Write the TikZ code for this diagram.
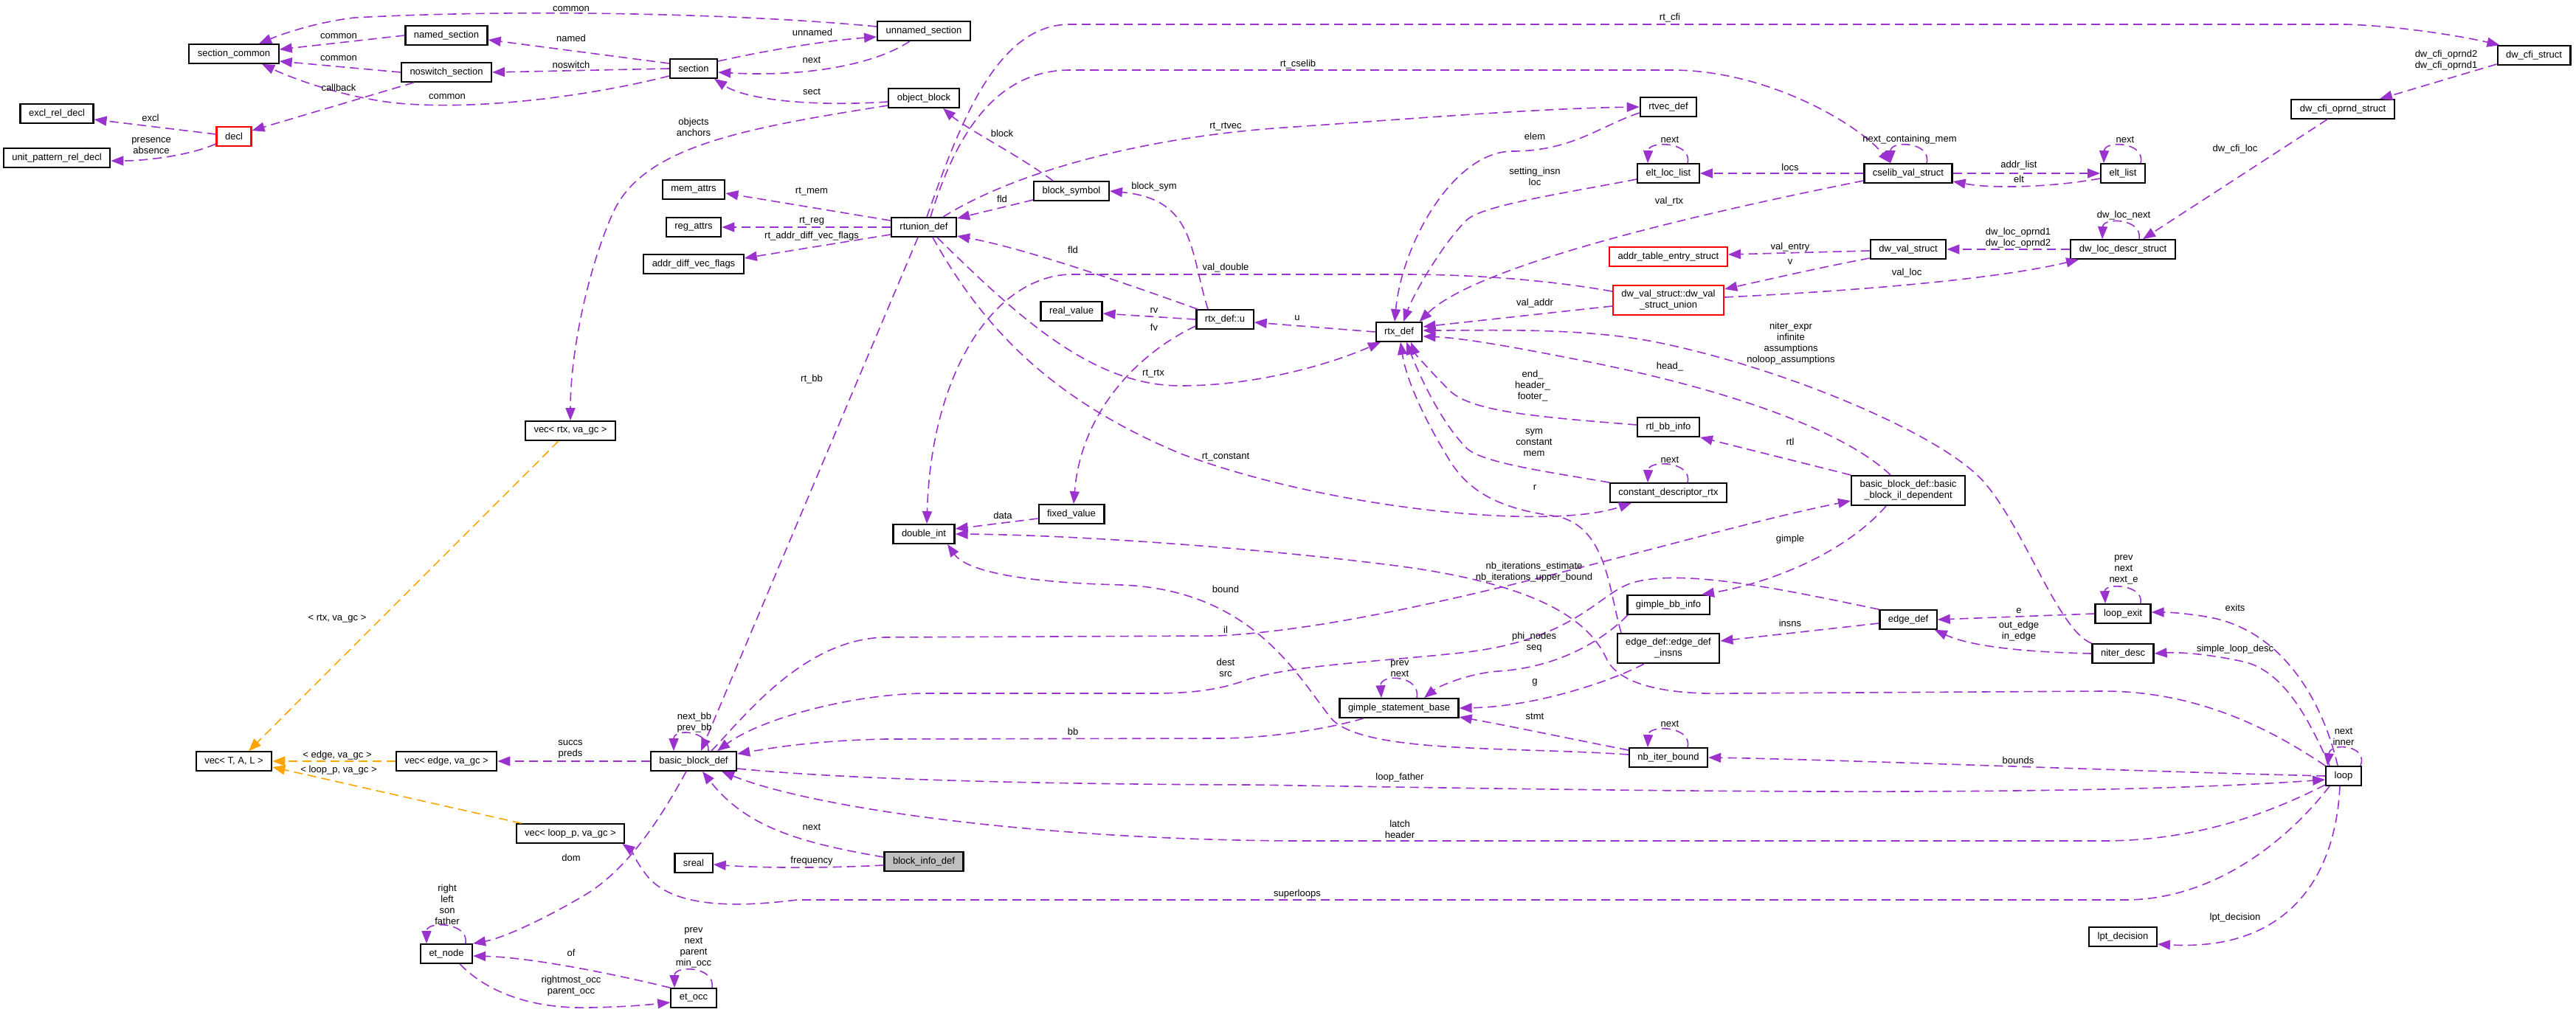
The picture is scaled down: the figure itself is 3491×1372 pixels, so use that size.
\documentclass[tikz,border=0pt]{standalone}
\usepackage{fontspec}
\setmainfont{Liberation Sans}
\usetikzlibrary{arrows.meta}
\definecolor{orchid}{RGB}{154,50,205}
\definecolor{tplorange}{RGB}{255,165,0}
\definecolor{rootgray}{RGB}{191,191,191}

\begin{document}
\begin{tikzpicture}[
        x=1pt, y=-1pt,
        every node/.style={font=\fontsize{13}{15}\selectfont},
        cls/.style={
            draw, line width=2.2pt, fill=white,
            inner xsep=11.5pt, inner ysep=0pt,
            minimum height=25.5pt, align=center
        },
        cls2/.style={cls, minimum height=40pt},
        redcls/.style={cls, draw=red},
        redcls2/.style={cls2, draw=red},
        rootcls/.style={cls, fill=rootgray},
        uses/.style={draw=orchid, line width=1.6pt, dash pattern=on 12pt off 7pt,
            -{Triangle[length=17pt, width=13pt]}},
        inst/.style={uses, draw=tplorange},
        lbl/.style={inner sep=0pt, align=center}
    ]
    \fill[white] (0,0) rectangle (3491,1372);
    \useasboundingbox (0,0) rectangle (3491,1372);

    % section structs
    \node[cls] (sc) at (317,73) {section\_common};
    \node[cls] (named) at (605,48) {named\_section};
    \node[cls] (noswitch) at (605,98) {noswitch\_section};
    \node[cls] (excl) at (77,154) {excl\_rel\_decl};
    \node[redcls] (decl) at (317,185) {decl};
    \node[cls] (upr) at (77,214) {unit\_pattern\_rel\_decl};
    \node[cls] (unnamed) at (1252,42) {unnamed\_section};
    \node[cls] (section) at (940,93) {section};
    \node[cls] (objblock) at (1252,133) {object\_block};
    \node[cls] (memattrs) at (940,257) {mem\_attrs};
    \node[cls] (regattrs) at (940,308) {reg\_attrs};
    \node[cls] (advf) at (940,358) {addr\_diff\_vec\_flags};
    \node[cls] (rtunion) at (1252,308) {rtunion\_def};
    \node[cls] (blocksym) at (1452,259) {block\_symbol};
    \node[cls] (realval) at (1452,422) {real\_value};
    \node[cls] (rtxu) at (1660,433) {rtx\_def::u};
    \node[cls] (fixed) at (1452,697) {fixed\_value};
    \node[cls] (dint) at (1252,724) {double\_int};
    \node[cls] (vecrtx) at (773,584) {vec< rtx, va\_gc >};

    % rtx and dwarf structs
    \node[cls] (rtx) at (1896,450) {rtx\_def};
    \node[cls] (rtvec) at (2261,145) {rtvec\_def};
    \node[cls] (eltloc) at (2261,235) {elt\_loc\_list};
    \node[cls] (cselib) at (2586,235) {cselib\_val\_struct};
    \node[cls] (eltlist) at (2877,235) {elt\_list};
    \node[redcls] (addrtab) at (2261,348) {addr\_table\_entry\_struct};
    \node[cls] (dwval) at (2586,338) {dw\_val\_struct};
    \node[redcls2] (dwunion) at (2261,407) {dw\_val\_struct::dw\_val\\\_struct\_union};
    \node[cls] (cfi) at (3434,75) {dw\_cfi\_struct};
    \node[cls] (cfiop) at (3175,148) {dw\_cfi\_oprnd\_struct};
    \node[cls] (locdescr) at (2877,338) {dw\_loc\_descr\_struct};
    \node[cls] (rtlbb) at (2261,579) {rtl\_bb\_info};
    \node[cls] (cdesc) at (2261,668) {constant\_descriptor\_rtx};
    \node[cls2] (bbil) at (2586,665) {basic\_block\_def::basic\\\_block\_il\_dependent};

    % cfg and loop structs
    \node[cls] (gbb) at (2261,820) {gimple\_bb\_info};
    \node[cls2] (einsns) at (2261,879) {edge\_def::edge\_def\\\_insns};
    \node[cls] (edge) at (2586,840) {edge\_def};
    \node[cls] (lexit) at (2877,832) {loop\_exit};
    \node[cls] (niter) at (2877,886) {niter\_desc};
    \node[cls] (gsb) at (1896,960) {gimple\_statement\_base};
    \node[cls] (nbib) at (2261,1027) {nb\_iter\_bound};
    \node[cls] (loop) at (3176,1052) {loop};
    \node[cls] (lpt) at (2877,1270) {lpt\_decision};
    \node[cls] (vectal) at (317,1032) {vec< T, A, L >};
    \node[cls] (vecedge) at (605,1032) {vec< edge, va\_gc >};
    \node[cls] (veclp) at (773,1130) {vec< loop\_p, va\_gc >};
    \node[cls] (bb) at (940,1032) {basic\_block\_def};
    \node[cls] (sreal) at (940,1170) {sreal};
    \node[rootcls] (bid) at (1252,1168) {block\_info\_def};
    \node[cls] (etnode) at (605,1293) {et\_node};
    \node[cls] (etocc) at (940,1353) {et\_occ};

    % section edges
    \draw[uses] (named.west) -- ([yshift=6pt]sc.east);
    \draw[uses] (noswitch.west) -- ([yshift=-10pt]sc.east);
    \draw[uses] ([yshift=6pt]unnamed.west) .. controls (1000,18) and (700,12) .. (480,24)
        .. controls (430,30) and (385,45) .. ([xshift=34pt]sc.north);
    \draw[uses] ([yshift=-10pt]section.west) .. controls (800,130) and (650,150) .. (540,140)
        .. controls (470,133) and (400,108) .. ([xshift=38pt]sc.south);
    \draw[uses] ([yshift=7pt]section.west) -- ([yshift=-6pt]named.east);
    \draw[uses] (section.west) -- (noswitch.east);
    \draw[uses] ([xshift=-44pt]noswitch.south) -- ([yshift=8pt]decl.east);
    \draw[uses] ([yshift=3pt]decl.west) -- ([yshift=-8pt]excl.east);
    \draw[uses] ([yshift=-10pt]decl.west) .. controls (260,210) and (200,218) .. ([yshift=-4pt]upr.east);
    \draw[uses] ([yshift=10pt]section.east) .. controls (1040,68) and (1120,55) .. ([yshift=-8pt]unnamed.west);
    \draw[uses] ([xshift=-19pt]unnamed.south) .. controls (1190,85) and (1100,105) .. ([yshift=-5pt]section.east);
    \draw[uses] ([yshift=-5pt]objblock.west) .. controls (1100,145) and (1010,135) .. ([xshift=28pt]section.south);
    \draw[uses] ([yshift=-10pt]objblock.west) .. controls (1000,175) and (870,200) .. (830,290)
        .. controls (795,370) and (773,480) .. (vecrtx.north);

    % template instances
    \draw[inst] ([xshift=-16pt]vecrtx.south) -- ([xshift=20pt]vectal.north);
    \draw[inst] (vecedge.west) -- (vectal.east);
    \draw[inst] ([xshift=8pt]veclp.north west) -- ([yshift=-8pt]vectal.east);
    \draw[uses] (bb.west) -- (vecedge.east);

    % rtunion_def
    \draw[uses] ([yshift=9pt]rtunion.west) -- ([yshift=-5pt]memattrs.east);
    \draw[uses] (rtunion.west) -- (regattrs.east);
    \draw[uses] ([yshift=-10pt]rtunion.west) -- ([yshift=8pt]advf.east);
    \draw[uses] ([yshift=-12pt]blocksym.west) -- ([yshift=12pt]rtunion.east);
    \draw[uses] ([xshift=-25pt]blocksym.north) .. controls (1380,210) and (1310,175) .. ([xshift=26pt]objblock.south);
    \draw[uses] ([xshift=-23pt]rtxu.north) .. controls (1612,340) and (1620,270) .. (blocksym.east);
    \draw[uses] ([xshift=-37pt]rtxu.north) .. controls (1500,375) and (1380,335) .. ([yshift=-12pt]rtunion.east);
    \draw[uses] (rtxu.west) -- ([yshift=-3pt]realval.east);
    \draw[uses] ([yshift=-9pt]rtxu.west) .. controls (1540,480) and (1465,560) .. ([xshift=3pt]fixed.north);
    \draw[uses] (rtx.west) -- ([yshift=-4pt]rtxu.east);
    \draw[uses] ([xshift=26pt]rtunion.north) .. controls (1380,230) and (1560,185) .. (1740,173)
        .. controls (1900,162) and (2080,147) .. (rtvec.west);
    \draw[uses] ([xshift=9pt]rtunion.north) .. controls (1290,200) and (1340,95) .. (1450,95) -- (2270,95)
        .. controls (2400,97) and (2520,170) .. ([xshift=-24pt]cselib.north);
    \draw[uses] ([xshift=4pt]rtunion.north) .. controls (1300,170) and (1350,33) .. (1450,33) -- (3180,33)
        .. controls (3260,36) and (3340,50) .. ([xshift=4pt]cfi.north west);
    \draw[uses] ([xshift=18pt]rtunion.south) .. controls (1380,430) and (1480,523) .. (1600,523)
        .. controls (1700,523) and (1800,495) .. ([xshift=-25pt]rtx.south);
    \draw[uses] ([xshift=-8pt]rtunion.south) -- ([xshift=10pt]bb.north);
    \draw[uses] ([xshift=12pt]rtunion.south) .. controls (1330,440) and (1420,540) .. (1600,615)
        .. controls (1800,690) and (2100,720) .. ([xshift=-50pt]cdesc.south);
    \draw[uses] ([yshift=-6pt]fixed.west) -- ([yshift=7pt]dint.east);

    % rtx_def and dwarf
    \draw[uses] ([yshift=12pt]dwunion.west) .. controls (2100,380) and (2000,372) .. (1900,372) -- (1450,372)
        .. controls (1350,375) and (1262,500) .. ([xshift=4pt]dint.north);
    \draw[uses] ([yshift=-8pt]dwunion.west) -- ([yshift=7pt]rtx.east);
    \draw[uses] ([yshift=-8pt]eltloc.west) .. controls (2120,262) and (2010,278) .. (1988,298)
        .. controls (1955,330) and (1915,400) .. ([xshift=6pt]rtx.north);
    \draw[uses] ([yshift=-8pt]rtvec.west) .. controls (2170,170) and (2130,205) .. (2050,205)
        .. controls (1970,205) and (1900,330) .. ([xshift=-6pt]rtx.north);
    \draw[uses] ([yshift=-10pt]cselib.west) .. controls (2300,290) and (2000,360) .. ([xshift=-5pt]rtx.north east);
    \draw[uses] (cselib.west) -- (eltloc.east);
    \draw[uses] ([xshift=26pt]eltloc.north) .. controls (2294,192) and (2234,190) .. ([xshift=-28pt]eltloc.north);
    \draw[uses] ([xshift=25pt]cselib.north) .. controls (2618,192) and (2562,190) .. ([xshift=-24pt]cselib.north);
    \draw[uses] (cselib.east) -- (eltlist.west);
    \draw[uses] ([yshift=-7pt]eltlist.west) .. controls (2780,254) and (2700,256) .. ([yshift=-11pt]cselib.east);
    \draw[uses] ([xshift=24pt]eltlist.north) .. controls (2908,192) and (2852,190) .. ([xshift=-26pt]eltlist.north);
    \draw[uses] ([yshift=-12pt]cfi.west) -- ([xshift=50pt]cfiop.north);
    \draw[uses] ([xshift=-21pt]cfiop.south) -- ([xshift=27pt]locdescr.north);
    \draw[uses] ([xshift=22pt]locdescr.north) .. controls (2904,296) and (2850,294) .. ([xshift=-28pt]locdescr.north);
    \draw[uses] (locdescr.west) -- (dwval.east);
    \draw[uses] ([yshift=4pt]dwunion.east) .. controls (2500,395) and (2700,380) .. ([xshift=12pt]locdescr.south west);
    \draw[uses] ([yshift=-2pt]dwval.west) -- ([yshift=3pt]addrtab.east);
    \draw[uses] ([yshift=-12pt]dwval.west) .. controls (2470,362) and (2400,378) .. ([yshift=15pt]dwunion.east);
    \draw[uses] ([yshift=3pt]rtlbb.west) .. controls (2080,565) and (1995,558) .. (1965,530)
        .. controls (1940,505) and (1918,480) .. ([xshift=16pt]rtx.south);
    \draw[uses] ([xshift=-80pt]cdesc.north) .. controls (2100,640) and (2010,628) .. (1988,608)
        .. controls (1950,570) and (1920,500) .. ([xshift=10pt]rtx.south);
    \draw[uses] ([xshift=26pt]cdesc.north) .. controls (2294,625) and (2234,623) .. ([xshift=-28pt]cdesc.north);
    \draw[uses] (bbil.north west) -- (rtlbb.south east);
    \draw[uses] ([xshift=-24pt]bbil.north) .. controls (2500,585) and (2350,530) .. (2150,490)
        .. controls (2050,470) and (1980,458) .. ([yshift=-6pt]rtx.east);
    \draw[uses] (niter.north west) .. controls (2790,855) and (2745,720) .. (2690,655)
        .. controls (2635,590) and (2420,500) .. (2250,465)
        .. controls (2150,444) and (2030,448) .. ([yshift=2pt]rtx.east);
    \draw[uses] ([xshift=-64pt]einsns.north) .. controls (2180,800) and (2178,715) .. (2110,700)
        .. controls (2030,690) and (1990,665) .. (1965,625)
        .. controls (1925,560) and (1905,510) .. ([xshift=2pt]rtx.south);

    % basic blocks, gimple and loops
    \draw[uses] ([xshift=-30pt]bbil.south) .. controls (2500,750) and (2400,790) .. ([xshift=45pt]gbb.north);
    \draw[uses] ([xshift=-55pt]gbb.south) .. controls (2170,870) and (2110,905) .. (2030,910)
        .. controls (1990,913) and (1950,930) .. ([xshift=34pt]gsb.north);
    \draw[uses] ([yshift=-5pt]edge.west) -- ([yshift=10pt]einsns.east);
    \draw[uses] ([xshift=-33pt]einsns.south) .. controls (2180,925) and (2080,958) .. (gsb.east);
    \draw[uses] ([xshift=24pt]gsb.north) .. controls (1926,915) and (1870,913) .. ([xshift=-24pt]gsb.north);
    \draw[uses] ([yshift=10pt]nbib.west) .. controls (2120,1000) and (2050,985) .. ([yshift=-12pt]gsb.east);
    \draw[uses] ([xshift=26pt]nbib.north) .. controls (2294,984) and (2234,982) .. ([xshift=-28pt]nbib.north);
    \draw[uses] ([yshift=4pt]nbib.west) .. controls (2050,1012) and (1850,1022) .. (1805,975)
        .. controls (1760,920) and (1700,800) .. (1520,793)
        .. controls (1390,790) and (1310,775) .. ([xshift=32pt]dint.south);
    \draw[uses] (loop.north west) .. controls (3080,990) and (2980,937) .. (2850,937) -- (2350,940)
        .. controls (2280,942) and (2200,935) .. (2178,895)
        .. controls (2150,830) and (2060,790) .. (1900,768)
        .. controls (1700,742) and (1450,725) .. (dint.east);
    \draw[uses] ([xshift=24pt]bb.north) .. controls (1010,970) and (1090,866) .. (1200,864) -- (1650,862)
        .. controls (1900,850) and (2300,720) .. ([yshift=-14pt]bbil.west);
    \draw[uses] (edge.north west) .. controls (2420,800) and (2260,765) .. (2200,795)
        .. controls (2160,815) and (2120,870) .. (1980,885)
        .. controls (1860,898) and (1740,902) .. (1680,925)
        .. controls (1640,938) and (1600,940) .. (1560,940) -- (1250,940)
        .. controls (1150,942) and (1030,975) .. ([xshift=32pt]bb.north);
    \draw[uses] ([xshift=-48pt]gsb.south) .. controls (1800,988) and (1720,1001) .. (1650,1001) -- (1200,1002)
        .. controls (1100,1004) and (1040,1015) .. ([yshift=10pt]bb.east);
    \draw[uses] ([yshift=-10pt]bb.east) .. controls (1100,1052) and (1300,1063) .. (1700,1064)
        .. controls (2200,1072) and (2800,1082) .. ([yshift=-5pt]loop.west);
    \draw[uses] ([yshift=-12pt]loop.west) .. controls (3080,1100) and (2980,1140) .. (2850,1140) -- (1750,1140)
        .. controls (1400,1138) and (1100,1095) .. ([xshift=38pt]bb.south);
    \draw[uses] ([xshift=-19pt]loop.south) .. controls (3100,1140) and (3000,1220) .. (2880,1220) -- (1080,1220)
        .. controls (1000,1230) and (910,1232) .. (875,1185)
        .. controls (862,1168) and (855,1152) .. ([xshift=-4pt]veclp.south east);
    \draw[uses] ([xshift=-5pt]loop.south) .. controls (3165,1190) and (3100,1290) .. ([yshift=-10pt]lpt.east);
    \draw[uses] ([xshift=-2pt]loop.north east) .. controls (3210,1010) and (3158,1006) .. ([xshift=3pt]loop.north west);
    \draw[uses] ([xshift=-8pt]loop.north) .. controls (3150,960) and (3100,860) .. (3000,838)
        .. controls (2970,832) and (2940,830) .. ([yshift=2pt]lexit.east);
    \draw[uses] ([xshift=6pt]loop.north west) .. controls (3135,990) and (3100,910) .. (3040,897)
        .. controls (2990,886) and (2950,884) .. (niter.east);
    \draw[uses] (loop.west) .. controls (2900,1046) and (2500,1030) .. (nbib.east);
    \draw[uses] ([xshift=24pt]lexit.north) .. controls (2906,792) and (2852,790) .. ([xshift=-24pt]lexit.north);
    \draw[uses] (lexit.west) -- (edge.east);
    \draw[uses] (niter.west) .. controls (2740,884) and (2670,876) .. ([xshift=-4pt]edge.south east);
    \draw[uses] ([yshift=6pt]bid.west) .. controls (1080,1142) and (1010,1120) .. ([xshift=12pt]bb.south);
    \draw[uses] ([yshift=-5pt]bid.west) .. controls (1100,1178) and (1020,1176) .. ([yshift=-2pt]sreal.east);
    \draw[uses] ([xshift=20pt]bb.north) .. controls (962,990) and (913,987) .. ([xshift=-27pt]bb.north);
    \draw[uses] ([xshift=-10pt]bb.south) .. controls (895,1110) and (850,1180) .. (790,1215)
        .. controls (730,1250) and (680,1272) .. (etnode.north east);
    \draw[uses] ([xshift=26pt]etnode.north) .. controls (636,1250) and (578,1248) .. ([xshift=-27pt]etnode.north);
    \draw[uses] (etocc.north west) .. controls (830,1320) and (720,1298) .. ([yshift=-3pt]etnode.east);
    \draw[uses] ([xshift=18pt]etnode.south) .. controls (660,1345) and (720,1368) .. (800,1366)
        .. controls (850,1365) and (880,1362) .. ([yshift=-6pt]etocc.west);
    \draw[uses] ([xshift=25pt]etocc.north) .. controls (970,1310) and (914,1308) .. ([xshift=-26pt]etocc.north);

    % edge labels
    \node[lbl] (l1) at (774,12) {common};
    \node[lbl] (l2) at (459,49) {common};
    \node[lbl] (l3) at (459,79) {common};
    \node[lbl] (l4) at (459,119) {callback};
    \node[lbl] (l5) at (606,131) {common};
    \node[lbl] (l6) at (774,52) {named};
    \node[lbl] (l7) at (774,88) {noswitch};
    \node[lbl] (l8) at (204,160) {excl};
    \node[lbl] (l9) at (205,198) {presence\\absence};
    \node[lbl] (l10) at (1101,44) {unnamed};
    \node[lbl] (l11) at (1100,81) {next};
    \node[lbl] (l12) at (1100,124) {sect};
    \node[lbl] (l13) at (940,172) {objects\\anchors};
    \node[lbl] (l14) at (457,839) {< rtx, va\_gc >};
    \node[lbl] (l15) at (457,1024) {< edge, va\_gc >};
    \node[lbl] (l16) at (459,1044) {< loop\_p, va\_gc >};
    \node[lbl] (l17) at (773,1016) {succs\\preds};
    \node[lbl] (l18) at (1100,260) {rt\_mem};
    \node[lbl] (l19) at (1100,300) {rt\_reg};
    \node[lbl] (l20) at (1100,320) {rt\_addr\_diff\_vec\_flags};
    \node[lbl] (l21) at (1358,270) {fld};
    \node[lbl] (l22) at (1358,181) {block};
    \node[lbl] (l23) at (1564,253) {block\_sym};
    \node[lbl] (l24) at (1454,339) {fld};
    \node[lbl] (l25) at (1564,421) {rv};
    \node[lbl] (l26) at (1564,444) {fv};
    \node[lbl] (l27) at (1758,431) {u};
    \node[lbl] (l28) at (1661,172) {rt\_rtvec};
    \node[lbl] (l29) at (1759,87) {rt\_cselib};
    \node[lbl] (l30) at (2263,24) {rt\_cfi};
    \node[lbl] (l31) at (1563,507) {rt\_rtx};
    \node[lbl] (l32) at (1100,514) {rt\_bb};
    \node[lbl] (l33) at (1661,620) {rt\_constant};
    \node[lbl] (l34) at (1661,363) {val\_double};
    \node[lbl] (l35) at (2080,411) {val\_addr};
    \node[lbl] (l36) at (2080,239) {setting\_insn\\loc};
    \node[lbl] (l37) at (2080,185) {elem};
    \node[lbl] (l38) at (2262,273) {val\_rtx};
    \node[lbl] (l39) at (2426,227) {locs};
    \node[lbl] (l40) at (2263,189) {next};
    \node[lbl] (l41) at (2588,189) {next\_containing\_mem};
    \node[lbl] (l42) at (2736,224) {addr\_list};
    \node[lbl] (l43) at (2736,243) {elt};
    \node[lbl] (l44) at (2880,189) {next};
    \node[lbl] (l45) at (3315,82) {dw\_cfi\_oprnd2\\dw\_cfi\_oprnd1};
    \node[lbl] (l46) at (3029,202) {dw\_cfi\_loc};
    \node[lbl] (l47) at (2878,292) {dw\_loc\_next};
    \node[lbl] (l48) at (2735,323) {dw\_loc\_oprnd1\\dw\_loc\_oprnd2};
    \node[lbl] (l49) at (2584,370) {val\_loc};
    \node[lbl] (l50) at (2426,335) {val\_entry};
    \node[lbl] (l51) at (2426,355) {v};
    \node[lbl] (l52) at (2077,523) {end\_\\header\_\\footer\_};
    \node[lbl] (l53) at (2079,600) {sym\\constant\\mem};
    \node[lbl] (l54) at (2263,623) {next};
    \node[lbl] (l55) at (2426,599) {rtl};
    \node[lbl] (l56) at (2263,497) {head\_};
    \node[lbl] (l57) at (2427,466) {niter\_expr\\infinite\\assumptions\\noloop\_assumptions};
    \node[lbl] (l58) at (2426,731) {gimple};
    \node[lbl] (l59) at (2079,871) {phi\_nodes\\seq};
    \node[lbl] (l60) at (2426,845) {insns};
    \node[lbl] (l61) at (2080,925) {g};
    \node[lbl] (l62) at (1897,907) {prev\\next};
    \node[lbl] (l63) at (2080,971) {stmt};
    \node[lbl] (l64) at (2263,981) {next};
    \node[lbl] (l65) at (1661,799) {bound};
    \node[lbl] (l66) at (2079,776) {nb\_iterations\_estimate\\nb\_iterations\_upper\_bound};
    \node[lbl] (l67) at (1661,854) {il};
    \node[lbl] (l68) at (1661,905) {dest\\src};
    \node[lbl] (l69) at (1454,992) {bb};
    \node[lbl] (l70) at (1897,1054) {loop\_father};
    \node[lbl] (l71) at (1897,1124) {latch\\header};
    \node[lbl] (l72) at (1758,1212) {superloops};
    \node[lbl] (l73) at (3029,1244) {lpt\_decision};
    \node[lbl] (l74) at (3176,999) {next\\inner};
    \node[lbl] (l75) at (3029,824) {exits};
    \node[lbl] (l76) at (3029,880) {simple\_loop\_desc};
    \node[lbl] (l77) at (2735,1031) {bounds};
    \node[lbl] (l78) at (2736,828) {e};
    \node[lbl] (l79) at (2736,856) {out\_edge\\in\_edge};
    \node[lbl] (l80) at (1100,1121) {next};
    \node[lbl] (l81) at (1100,1167) {frequency};
    \node[lbl] (l82) at (941,980) {next\_bb\\prev\_bb};
    \node[lbl] (l83) at (774,1163) {dom};
    \node[lbl] (l84) at (606,1226) {right\\left\\son\\father};
    \node[lbl] (l85) at (774,1292) {of};
    \node[lbl] (l86) at (774,1337) {rightmost\_occ\\parent\_occ};
    \node[lbl] (l87) at (940,1285) {prev\\next\\parent\\min\_occ};
    \node[lbl] (l88) at (1359,699) {data};
    \node[lbl] (l89) at (2080,661) {r};
    \node[lbl] (l90) at (2878,772) {prev\\next\\next\_e};
\end{tikzpicture}
\end{document}
